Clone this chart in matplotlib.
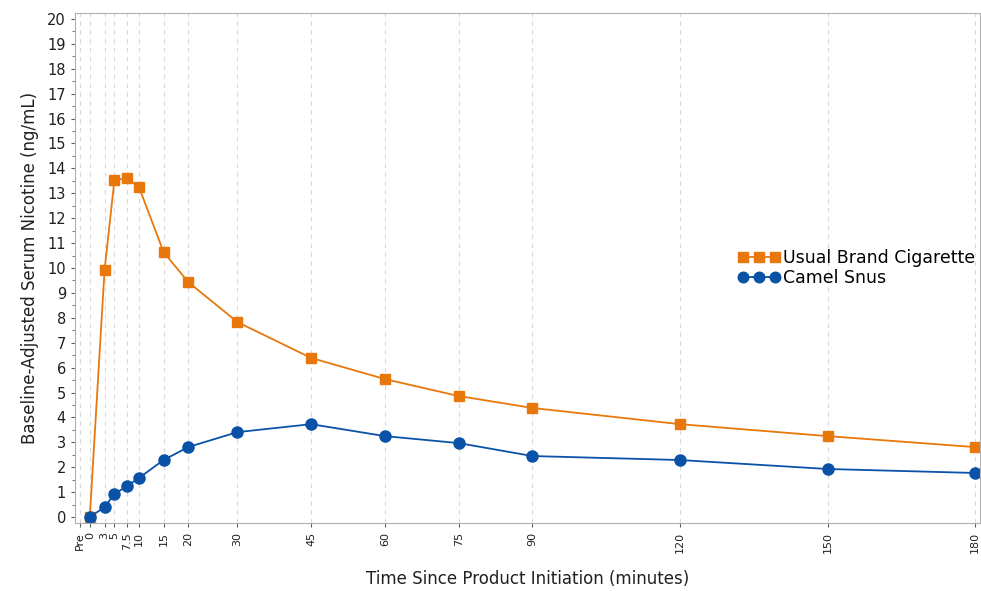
import numpy as np
import matplotlib.pyplot as plt

# time points (minutes); "Pre" drawn just before 0
tick_pos = [-2, 0, 3, 5, 7.5, 10, 15, 20, 30, 45, 60, 75, 90, 120, 150, 180]
tick_lab = ["Pre", "0", "3", "5", "7.5", "10", "15", "20", "30", "45", "60", "75", "90", "120", "150", "180"]

times = [0, 3, 5, 7.5, 10, 15, 20, 30, 45, 60, 75, 90, 120, 150, 180]
cigarette = [0.0, 9.92, 13.53, 13.6, 13.25, 10.64, 9.44, 7.83, 6.39, 5.54, 4.86, 4.38, 3.73, 3.25, 2.81]
snus = [0.0, 0.4, 0.92, 1.24, 1.57, 2.29, 2.81, 3.41, 3.73, 3.25, 2.97, 2.45, 2.29, 1.93, 1.77]

orange = "#E8780C"
blue = "#0A52A8"

fig = plt.figure(figsize=(9.81, 5.91), dpi=100)
ax = fig.add_axes([0.0765, 0.115, 0.9225, 0.863])

for x in tick_pos:
    ax.axvline(x, color="#d8d8d8", lw=0.8, ls=(0, (4, 4)), zorder=0)

ax.plot(times, cigarette, color=orange, lw=1.3, marker="s", ms=7.5, label="Usual Brand Cigarette")
ax.plot(times, snus, color=blue, lw=1.3, marker="o", ms=8, label="Camel Snus")

ax.set_xlim(-3, 181)
ax.set_ylim(-0.24, 20.24)
ax.set_yticks(np.arange(0, 21, 1))
ax.set_yticks(np.arange(0, 20.5, 0.5), minor=True)
ax.set_xticks(tick_pos)
ax.set_xticklabels(tick_lab, rotation=90)

for s in ax.spines.values():
    s.set_color("#b0b0b0")
    s.set_linewidth(0.8)
ax.tick_params(axis="both", colors="#202020", length=3, width=0.8)
ax.tick_params(axis="y", labelsize=10.5)
ax.tick_params(axis="x", labelsize=8)
ax.tick_params(axis="both", which="both", color="#606060")
ax.tick_params(axis="y", which="minor", length=2)

ax.set_xlabel("Time Since Product Initiation (minutes)", fontsize=12, color="#202020", labelpad=12)
ax.set_ylabel("Baseline-Adjusted Serum Nicotine (ng/mL)", fontsize=12, color="#202020", labelpad=6)

ax.legend(loc="center left", bbox_to_anchor=(0.725, 0.5), frameon=False, numpoints=3,
          handlelength=2.4, handletextpad=0.2, fontsize=12.5, labelspacing=0.15,
          borderaxespad=0, markerscale=0.95)

fig.savefig("out.png", dpi=100)
